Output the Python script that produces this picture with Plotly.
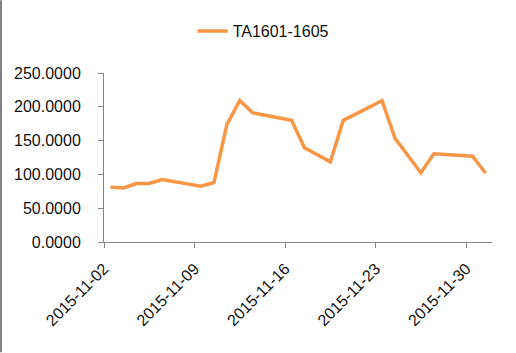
import pandas as pd
import plotly.graph_objects as go

series_name = "TA1601-1605"
dates = ["2015-11-02", "2015-11-03", "2015-11-04", "2015-11-05", "2015-11-06",
         "2015-11-09", "2015-11-10", "2015-11-11", "2015-11-12", "2015-11-13",
         "2015-11-16", "2015-11-17", "2015-11-18", "2015-11-19", "2015-11-20",
         "2015-11-23", "2015-11-24", "2015-11-25", "2015-11-26", "2015-11-27",
         "2015-11-30", "2015-12-01"]
values = [81, 80, 86.5, 86.5, 92.5,
          82.5, 88, 173.5, 209.5, 191,
          180, 139.5, 129, 118.5, 180,
          209, 153.5, 128, 102.5, 130.5,
          127, 102]
tick_dates = ["2015-11-02", "2015-11-09", "2015-11-16", "2015-11-23", "2015-11-30"]

W, H = 516, 353
ML, MR, MT, MB = 104, 24, 73, 110.5
FONT = "Liberation Sans"

# Excel-style date axis: each point sits in the middle of its day slot
x = pd.to_datetime(dates) + pd.Timedelta(hours=12)

fig = go.Figure()
fig.add_trace(go.Scatter(
    x=x, y=values, mode="lines", name=series_name,
    line=dict(color="#F79646", width=3.5),
))

fig.update_layout(
    width=W, height=H,
    margin=dict(l=ML, r=MR, t=MT, b=MB),
    paper_bgcolor="white", plot_bgcolor="white",
    font=dict(family=FONT, size=16, color="#111111"),
    showlegend=True,
    legend=dict(orientation="h", xref="container", yref="container",
                x=0.51, xanchor="center", y=1 - 31 / H, yanchor="middle",
                font=dict(size=16), bgcolor="rgba(0,0,0,0)"),
    xaxis=dict(
        type="date",
        range=["2015-11-02", "2015-12-02"],
        tickvals=pd.to_datetime(tick_dates),
        tickformat="%Y-%m-%d",
        tickangle=-45,
        showgrid=False, zeroline=False,
        showline=True, linecolor="#868686", linewidth=1,
        ticks="outside", ticklen=5, tickcolor="#868686",
        ticklabelstandoff=5,
        tickfont=dict(size=16),
        fixedrange=True,
    ),
    yaxis=dict(
        range=[0, 250], dtick=50, tickformat=".4f",
        showgrid=False, zeroline=False,
        showline=True, linecolor="#868686", linewidth=1,
        ticks="outside", ticklen=5, tickcolor="#868686",
        ticklabelstandoff=14,
        tickfont=dict(size=16),
        fixedrange=True,
    ),
    shapes=[dict(type="line", xref="paper", yref="paper",
                 x0=-(ML - 1) / (W - ML - MR), x1=-(ML - 1) / (W - ML - MR),
                 y0=-MB / (H - MT - MB), y1=1 + MT / (H - MT - MB),
                 line=dict(color="#808080", width=2))],
)

fig.write_html("out.html")
